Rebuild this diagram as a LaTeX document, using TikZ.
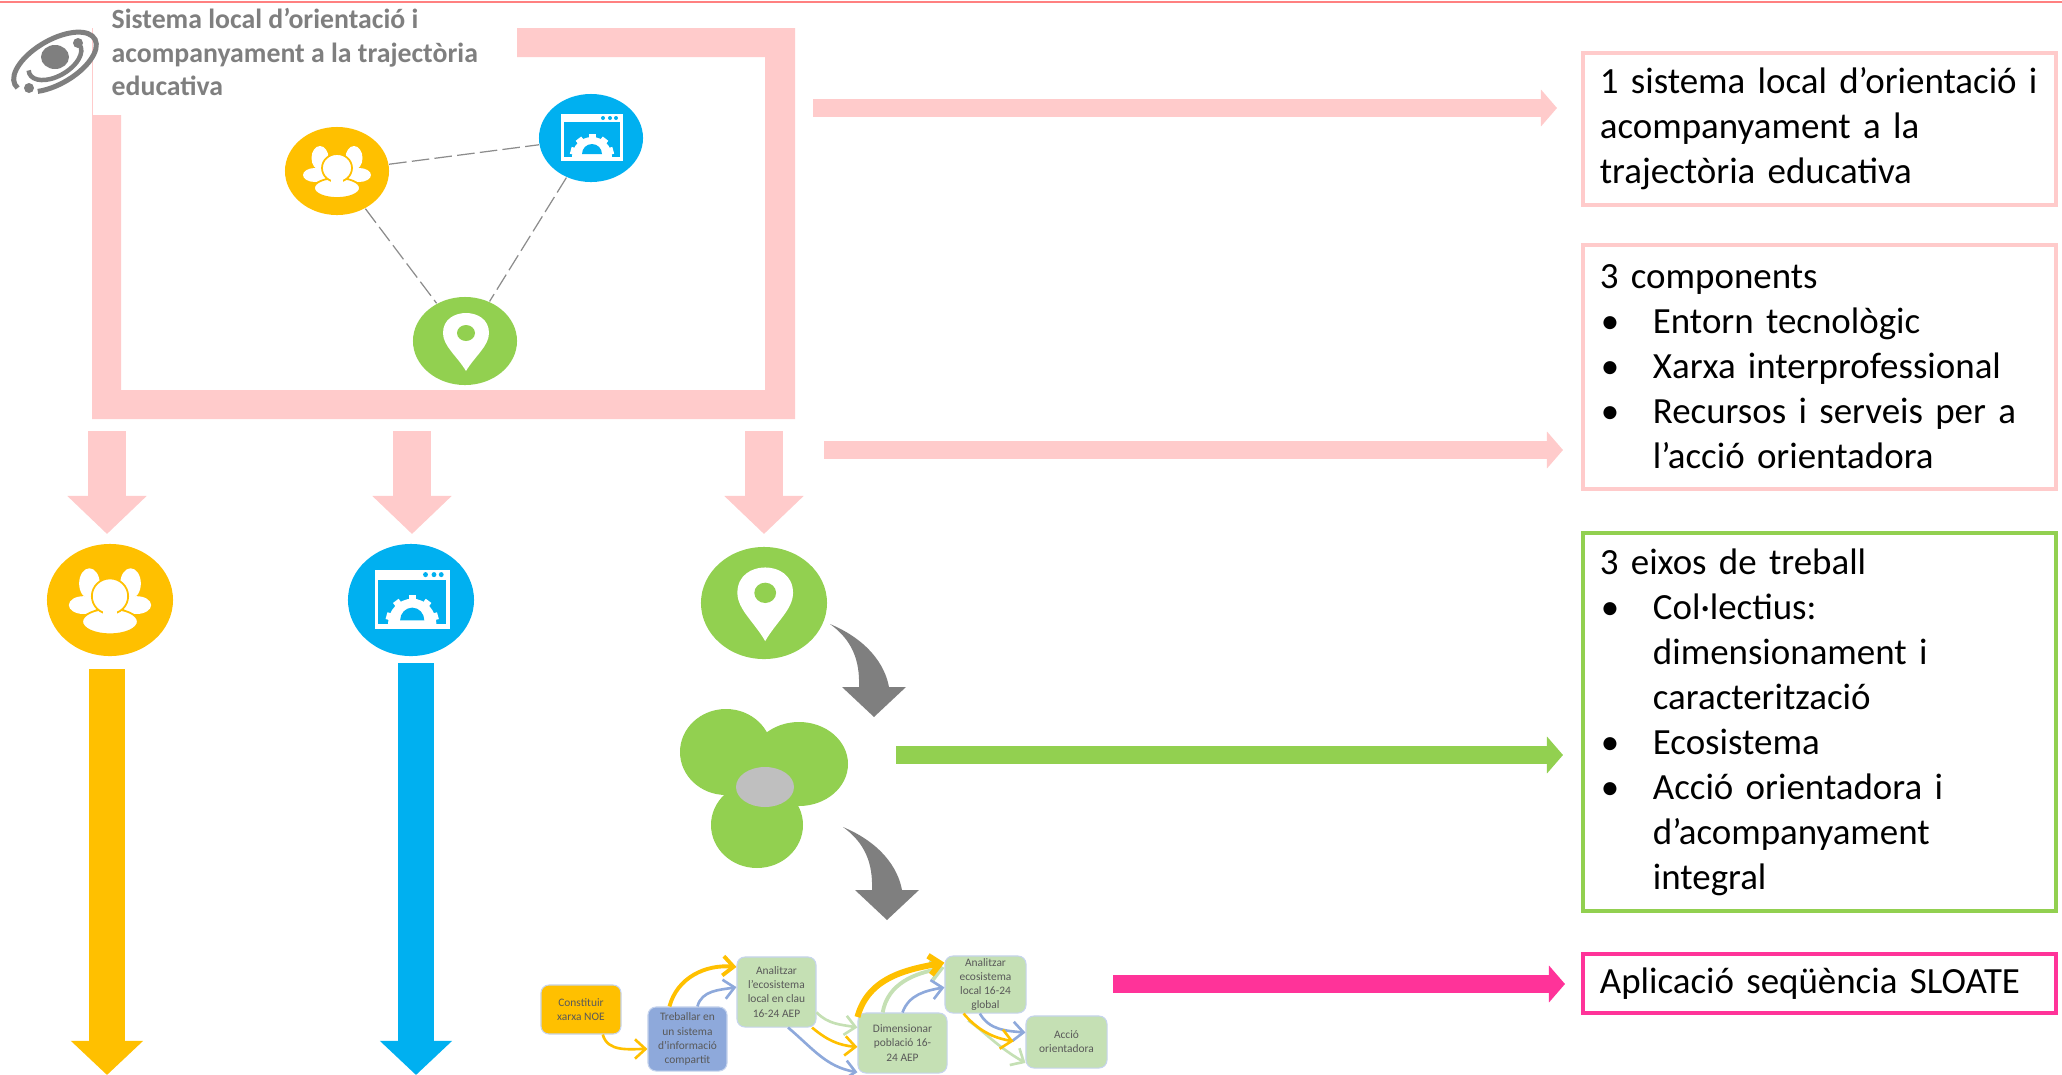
\documentclass[tikz,border=0pt]{standalone}
\usepackage{fontspec}
\setmainfont{Carlito}
\usetikzlibrary{arrows.meta,shapes.geometric}

\definecolor{palepink}{HTML}{FFCBCB}
\definecolor{goldtone}{HTML}{FFC000}
\definecolor{skytone}{HTML}{00B0F0}
\definecolor{leaftone}{HTML}{92D050}
\definecolor{greytone}{HTML}{7F7F7F}
\definecolor{hotpink}{HTML}{FF3399}
\definecolor{stepgreen}{HTML}{C5E0B4}
\definecolor{stepblue}{HTML}{8EA9DB}

\newcommand{\bul}{\makebox[.53cm][l]{\hspace{.01cm}•}}
\newcommand{\ind}{\hspace*{.53cm}}

\begin{document}
\begin{tikzpicture}[x=0.01cm, y=-0.01cm,
  disc/.style={ellipse, inner sep=0pt, minimum width=1.04cm, minimum height=.88cm},
  bigdisc/.style={ellipse, inner sep=0pt, minimum width=1.26cm, minimum height=1.12cm},
  linkline/.style={dash pattern=on 5pt off 1.5pt, line width=.35pt, color=black!45},
  textbox/.style={draw=palepink, line width=1.2pt, text width=4.39cm, inner xsep=.17cm, inner ysep=0pt, align=left,
    font=\fontsize{10.5}{12.8}\selectfont},
  stepbox/.style={rounded corners=.08cm, draw=stepblue!50, line width=.3pt, inner sep=0pt, align=center,
    text=black!65, font=\fontsize{3.25}{4}\selectfont},
  longarrow/.style={line width=.18cm, -{Triangle[length=.16cm,width=.36cm]}},
  downarrow/.style={line width=.38cm, palepink, -{Triangle[length=.38cm,width=.77cm]}},
  tallarrow/.style={line width=.36cm, -{Triangle[length=.34cm,width=.70cm]}},
  flow/.style={-{Straight Barb[length=3pt,width=5.5pt]}, line width=.75pt},
  pics/peopleicon/.style={code={
    \foreach \x in {-1,1} {
      \fill[white] (\x*17,-13) ellipse[x radius=8.5, y radius=12];
      \fill[white] (\x*22,4) ellipse[x radius=12, y radius=7];
    }
    \draw[goldtone, fill=white, line width=.5pt] (0,17) ellipse[x radius=23, y radius=10];
    \draw[goldtone, fill=white, line width=.5pt] (0,-3) ellipse[x radius=15, y radius=14];
    \fill[white] (-6,4) rectangle (6,12);
  }},
  pics/windowicon/.style={code={
    \fill[white] (-30,-24) rectangle (32,23);
    \fill[skytone] (-27,-16) rectangle (29,19);
    \foreach \x in {12,19,25} {
      \fill[skytone] (\x,-20) circle[radius=2];
    }
    \foreach \a in {-15,-52,-90,-128,-165} {
      \draw[white, line width=.07cm] (1,18) -- ++(\a:22);
    }
    \fill[white] (-19,19) arc[start angle=180, end angle=360, radius=20];
    \fill[skytone] (-9,16) arc[start angle=180, end angle=360, radius=10];
  }},
  pics/pinicon/.style={code={
    \fill[white] (1,30) .. controls (-8,15) and (-22,5) .. (-22,-8)
      .. controls (-22,-22) and (-10,-28) .. (1,-28)
      .. controls (12,-28) and (24,-22) .. (24,-8)
      .. controls (24,5) and (10,15) .. (1,30) -- cycle;
    \fill[leaftone] (1,-8) ellipse[x radius=9, y radius=8];
  }}
]
  \useasboundingbox (0,0) rectangle (2062,1075);

  \coordinate (rulea) at (0,2);
  \coordinate (ruleb) at (2062,2);
  \draw[red!50, line width=.4pt] (rulea) -- (ruleb);

  \fill[palepink] (517,28) -- (795,28) -- (795,419) -- (92,419) -- (92,115) -- (121,115)
    -- (121,390) -- (765,390) -- (765,57) -- (517,57) -- cycle;
  \draw[palepink, line width=.3pt] (92.5,28) -- (92.5,115);

  \draw[greytone, line width=.05cm, rotate around={30:(55,62)}] (55,62) ++(170:46 and 22)
    arc[start angle=170, end angle=490, x radius=46, y radius=22];
  \draw[greytone, line width=.045cm, rotate around={30:(55,60)}] (55,60) ++(195:29 and 16)
    arc[start angle=195, end angle=-5, x radius=29, y radius=16];
  \fill[greytone] (55,57) ellipse[x radius=14, y radius=12];
  \foreach \x/\y in {78/43, 29/88} {
    \fill[greytone] (\x,\y) circle[radius=5];
  }
  \draw (111,52) node[anchor=west, text=greytone, align=left, inner sep=0pt,
    font=\fontsize{7.9}{9.6}\bfseries\selectfont] (title) {Sistema local d’orientació i\\acompanyament a la trajectòria\\educativa};

  \draw (337,171) node[disc, fill=goldtone] (people) {};
  \draw (591,138) node[disc, fill=skytone] (window) {};
  \draw (465,341) node[disc, fill=leaftone] (place) {};
  \pic at (people) {peopleicon};
  \pic at (window) {windowicon};
  \pic at (place) {pinicon};
  \draw[linkline] (people) -- (window);
  \draw[linkline] (people) -- (place);
  \draw[linkline] (window) -- (place);

  \foreach \x in {107,412,764} {
    \coordinate (top\x) at (\x,431);
    \coordinate (tip\x) at (\x,534);
    \draw[downarrow] (top\x) -- (tip\x);
  }

  \draw (110,600) node[bigdisc, fill=goldtone] (peoplebig) {};
  \draw (411,600) node[bigdisc, fill=skytone] (windowbig) {};
  \draw (764,603) node[bigdisc, fill=leaftone] (placebig) {};
  \pic[xscale=1.21, yscale=1.27] at (peoplebig) {peopleicon};
  \pic[xscale=1.21, yscale=1.27] at (windowbig) {windowicon};
  \pic[xscale=1.21, yscale=1.27] at (placebig) {pinicon};

  \coordinate (goldtop) at (107,669);
  \coordinate (goldtip) at (107,1075);
  \draw[tallarrow, goldtone] (goldtop) -- (goldtip);
  \coordinate (skytop) at (416,663);
  \coordinate (skytip) at (416,1075);
  \draw[tallarrow, skytone] (skytop) -- (skytip);

  \foreach \x/\y in {0/0, 13/203} {
    \fill[greytone, shift={(\x,\y)}] (830,624) .. controls (868,640) and (885,665) .. (889,687)
      -- (906,687) -- (874,717) -- (842,687) -- (859,687) .. controls (860,660) and (852,640) .. cycle;
  }

  \fill[leaftone] (726,752) ellipse[x radius=46, y radius=43];
  \fill[leaftone] (799,764) ellipse[x radius=49, y radius=42];
  \fill[leaftone] (757,825) ellipse[x radius=46, y radius=43];
  \fill[leaftone] (765,787) circle[radius=30];
  \fill[black!25] (765,787) ellipse[x radius=29, y radius=20];

  \draw (1819.5,129) node[textbox, minimum height=1.52cm] (boxa)
    {1 sistema local d’orientació i\\acompanyament a la\\trajectòria educativa};
  \draw (1819.5,367) node[textbox, minimum height=2.44cm] (boxb)
    {3 components\\\bul Entorn tecnològic\\\bul Xarxa interprofessional\\\bul Recursos i serveis per a\\\ind l’acció orientadora};
  \draw (1819.5,722) node[textbox, draw=leaftone, minimum height=3.78cm] (boxc)
    {3 eixos de treball\\\bul Col·lectius:\\\ind dimensionament i\\\ind caracterització\\\bul Ecosistema\\\bul Acció orientadora i\\\ind d’acompanyament\\\ind integral};
  \draw (1819.5,983.5) node[textbox, draw=hotpink, minimum height=.59cm] (boxd)
    {Aplicació seqüència SLOATE};

  \foreach \n/\a/\b/\y/\c in {a/813/1557/108/palepink, b/824/1563/450/palepink, c/896/1563/755/leaftone, d/1113/1565/984/hotpink} {
    \coordinate (from\n) at (\a,\y);
    \coordinate (to\n) at (\b,\y);
    \draw[longarrow, \c] (from\n) -- (to\n);
  }

  \draw (581,1009.5) node[stepbox, fill=goldtone, minimum width=.80cm, minimum height=.49cm] (noe) {Constituir\\xarxa NOE};
  \draw (687.5,1039) node[stepbox, fill=stepblue, minimum width=.79cm, minimum height=.64cm] (info) {Treballar en\\un sistema\\d’informació\\compartit};
  \draw (776.5,992) node[stepbox, fill=stepgreen, minimum width=.79cm, minimum height=.70cm] (local) {Analitzar\\l’ecosistema\\local en clau\\16-24 AEP};
  \draw (902.5,1043) node[stepbox, fill=stepgreen, minimum width=.89cm, minimum height=.60cm] (popul) {Dimensionar\\població 16-\\24 AEP};
  \draw (985.5,984.5) node[stepbox, fill=stepgreen, minimum width=.81cm, minimum height=.57cm] (global) {Analitzar\\ecosistema\\local 16-24\\global};
  \draw (1066.5,1042) node[stepbox, fill=stepgreen, minimum width=.81cm, minimum height=.52cm] (accio) {Acció\\orientadora};

  \draw[flow, goldtone] (noe.-49) to[out=-75, in=180] (info.194);
  \draw[flow, goldtone, line width=1.1pt] (info.119) to[out=75, in=175] (local.148);
  \draw[flow, stepblue] (info.73) to[out=75, in=190] (local.173);
  \draw[flow, stepgreen] (local.-27) to[out=-45, in=170] (popul.161);
  \draw[flow, goldtone] (local.-45) to[out=-40, in=175] (popul.185);
  \draw[flow, stepblue] (local.-72) to[out=-40, in=170] (popul.213);
  \draw[flow, stepgreen, line width=1.1pt] (popul.123) to[out=80, in=190] (global.158);
  \draw[flow, stepblue] (popul.90) to[out=70, in=190] (global.184);
  \draw[flow, goldtone, line width=1.7pt] (popul.150) to[out=75, in=190] (global.152);
  \draw[flow, stepblue] (global.259) to[out=-60, in=175] (accio.167);
  \draw[flow, stepgreen, shorten <=.12cm] (global.227) to[out=-35, in=150] (accio.207);
  \draw[flow, goldtone, shorten >=.12cm] (global.233) to[out=-50, in=170] (accio.182);
\end{tikzpicture}
\end{document}
